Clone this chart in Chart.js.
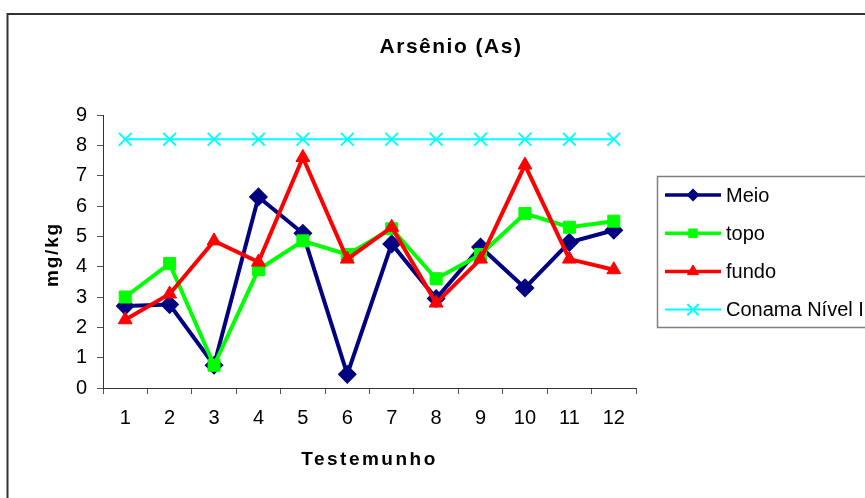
<!DOCTYPE html>
<html><head><meta charset="utf-8">
<script src="https://cdn.jsdelivr.net/npm/chart.js@4"></script>
<style>html,body{margin:0;padding:0;background:#fff;overflow:hidden}#wrap{width:865px;height:498px;position:relative}</style>
</head><body><div id="wrap"><canvas id="c" width="865" height="498"></canvas></div>
<script>
const chartTitle = 'Arsênio (As)';
const xTitle = 'Testemunho';
const yTitle = 'mg/kg';
const categories = ['1','2','3','4','5','6','7','8','9','10','11','12'];
const seriesNames = ['Meio', 'topo', 'fundo', 'Conama Nível I'];
const meio   = [2.7, 2.75, 0.75, 6.3, 5.1, 0.45, 4.75, 2.95, 4.65, 3.3, 4.8, 5.2];
const topo   = [3.0, 4.1, 0.75, 3.9, 4.85, 4.4, 5.25, 3.6, 4.4, 5.75, 5.3, 5.5];
const fundo  = [2.25, 3.1, 4.85, 4.15, 7.6, 4.25, 5.3, 2.8, 4.25, 7.35, 4.25, 3.9];
const conama = [8.2, 8.2, 8.2, 8.2, 8.2, 8.2, 8.2, 8.2, 8.2, 8.2, 8.2, 8.2];
const yMin = 0, yMax = 9, yStep = 1;

const FONT = '"Liberation Sans", Arial, sans-serif';

const styles = [
  {color:'#000080', style:'rectRot', r:8.5, lw:4, pbw:1.5, lr:5.5, llw:3.5},
  {color:'#00FF00', style:'rect', r:8.5, lw:4, pbw:1, lr:6, llw:3.5},
  {color:'#FF0000', style:'triangle', r:8, lw:4, pbw:1, lr:6.5, llw:3.5},
  {color:'#00FFFF', style:'crossRot', r:9, lw:2, pbw:2, lr:8, llw:2}
];
const seriesData = [meio, topo, fundo, conama];

const datasets = seriesData.map((d, i) => ({
  label: seriesNames[i],
  data: d,
  borderColor: styles[i].color,
  backgroundColor: styles[i].color,
  borderWidth: styles[i].lw,
  pointStyle: styles[i].style,
  pointRadius: styles[i].r,
  pointHoverRadius: styles[i].r,
  pointBorderWidth: styles[i].pbw,
  pointBackgroundColor: styles[i].color,
  pointBorderColor: styles[i].color,
  tension: 0,
  fill: false,
  order: seriesData.length - i
}));

const decorPlugin = {
  id: 'decor',
  afterDraw(chart) {
    const ctx = chart.ctx;
    const ca = chart.chartArea;
    ctx.save();
    // outer chart border
    ctx.strokeStyle = '#333';
    ctx.lineWidth = 2;
    ctx.strokeRect(7.5, 14, 1000, 1000);
    // chart title
    ctx.fillStyle = '#000';
    ctx.textAlign = 'center';
    ctx.textBaseline = 'middle';
    ctx.letterSpacing = '1.5px';
    ctx.font = 'bold 21px ' + FONT;
    ctx.fillText(chartTitle, 451, 47);
    // x title
    ctx.letterSpacing = '2.5px';
    ctx.font = 'bold 19px ' + FONT;
    ctx.fillText(xTitle, (ca.left + ca.right) / 2, 460);
    // y title
    ctx.save();
    ctx.translate(52.5, (ca.top + ca.bottom) / 2 + 3);
    ctx.rotate(-Math.PI / 2);
    ctx.letterSpacing = '1.8px';
    ctx.fillText(yTitle, 0, 0);
    ctx.restore();
    // legend
    ctx.letterSpacing = '0px';
    ctx.strokeStyle = '#808080';
    ctx.lineWidth = 1.5;
    ctx.strokeRect(657.5, 176.5, 400, 151);
    ctx.font = '20px ' + FONT;
    ctx.textAlign = 'left';
    chart.data.datasets.forEach((ds, i) => {
      const y = 195 + i * 38.2;
      const st = styles[i];
      ctx.strokeStyle = ds.borderColor;
      ctx.fillStyle = ds.borderColor;
      ctx.lineWidth = st.llw;
      ctx.beginPath();
      ctx.moveTo(665, y);
      ctx.lineTo(721, y);
      ctx.stroke();
      ctx.lineWidth = st.pbw;
      Chart.helpers.drawPoint(ctx, {pointStyle: st.style, radius: st.lr, borderWidth: st.pbw, rotation: 0}, 693, y);
      ctx.fillStyle = '#000';
      ctx.fillText(ds.label, 726, y + 1);
    });
    ctx.restore();
  }
};

new Chart(document.getElementById('c'), {
  type: 'line',
  data: { labels: categories, datasets },
  options: {
    responsive: false,
    animation: false,
    events: [],
    layout: { padding: { left: 8, top: 115, right: 229, bottom: 0 } },
    plugins: { legend: { display: false }, title: { display: false }, tooltip: { enabled: false } },
    scales: {
      x: {
        type: 'category',
        offset: true,
        grid: { offset: true, drawOnChartArea: false, drawTicks: true, tickLength: 6, color: '#555', lineWidth: 1 },
        border: { color: '#333', width: 1 },
        ticks: { color: '#000', font: { family: FONT, size: 20 }, padding: 12, maxRotation: 0, autoSkip: false },
        afterFit(s) { s.height = 110; }
      },
      y: {
        min: yMin, max: yMax,
        grid: { drawOnChartArea: false, drawTicks: true, tickLength: 6, color: '#555', lineWidth: 1 },
        border: { color: '#333', width: 1 },
        ticks: { stepSize: yStep, color: '#000', font: { family: FONT, size: 20 }, padding: 10 },
        afterFit(s) { s.width = 95; }
      }
    }
  },
  plugins: [decorPlugin]
});
</script>
</body></html>
